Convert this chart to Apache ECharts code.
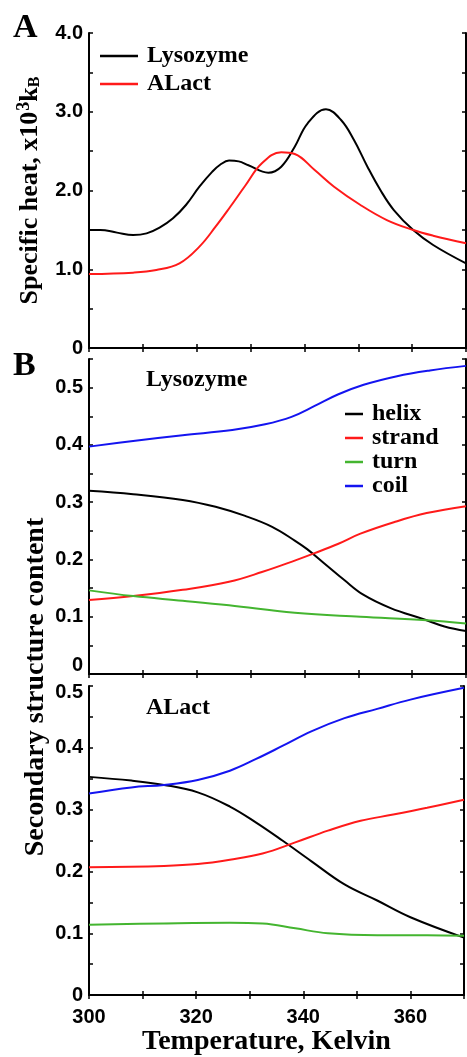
<!DOCTYPE html>
<html>
<head>
<meta charset="utf-8">
<script src="https://cdn.jsdelivr.net/npm/echarts@6/dist/echarts.min.js"></script>
<style>
  html, body { margin: 0; padding: 0; background: #fff; }
  #container { width: 467px; height: 1057px; }
</style>
</head>
<body>
<div id="container"></div>
<script>
var dom = document.getElementById("container");
var myChart = echarts.init(dom);

// panel A: specific heat (x10^3 kB) vs temperature
var cpLysoT = [300, 302.1, 305.2, 308.2, 310.7, 313.1, 315.6, 318, 320.5, 322.9, 324.4, 326, 327.8, 329.6, 333.3, 335.7, 338.2, 340.6, 344, 346.8, 349.2, 351.7, 354.1, 356.6, 360.2, 363.9, 370];
var cpLyso = [1.50, 1.50, 1.465, 1.435, 1.456, 1.528, 1.647, 1.816, 2.048, 2.239, 2.33, 2.38, 2.37, 2.32, 2.226, 2.302, 2.556, 2.853, 3.031, 2.895, 2.641, 2.302, 2.006, 1.752, 1.498, 1.308, 1.075];
var cpALactT = [300, 308.2, 312.5, 316.8, 320.5, 323.5, 326.2, 329, 332.1, 335.7, 338.2, 341.9, 345.5, 350.4, 355.3, 360.2, 363.9, 370];
var cpALact = [0.94, 0.957, 0.99, 1.075, 1.287, 1.54, 1.79, 2.06, 2.345, 2.485, 2.463, 2.26, 2.048, 1.816, 1.625, 1.498, 1.426, 1.33];

// panel B, lysozyme
var lysoHelixT = [300, 308.2, 317.4, 323.5, 329, 334, 338.2, 340.5, 343.7, 347.4, 351, 356, 362, 366, 370];
var lysoHelix = [0.32, 0.314, 0.304, 0.292, 0.276, 0.257, 0.233, 0.218, 0.193, 0.164, 0.138, 0.115, 0.096, 0.083, 0.075];
var lysoStrandT = [300, 308.2, 317.4, 326, 332.1, 338.2, 341.9, 346.2, 350.4, 356.6, 362.7, 370];
var lysoStrand = [0.129, 0.136, 0.147, 0.161, 0.178, 0.198, 0.211, 0.227, 0.245, 0.265, 0.281, 0.293];
var lysoTurnT = [300, 308.2, 317.4, 326, 338.2, 350.4, 362.7, 370];
var lysoTurn = [0.146, 0.136, 0.128, 0.12, 0.107, 0.1, 0.094, 0.088];
var lysoCoilT = [300, 308.2, 317.4, 326.6, 332.7, 337.6, 341.9, 346.2, 351, 357.2, 363.3, 370];
var lysoCoil = [0.397, 0.407, 0.417, 0.426, 0.436, 0.449, 0.468, 0.488, 0.505, 0.52, 0.53, 0.538];

// panel B, ALact
var alHelixT = [300, 307.9, 314, 320.3, 326.3, 331.2, 336.1, 341.6, 347.7, 353.8, 360, 370];
var alHelix = [0.353, 0.347, 0.34, 0.328, 0.305, 0.279, 0.25, 0.216, 0.179, 0.153, 0.126, 0.093];
var alStrandT = [300, 314, 320.3, 326.3, 332.4, 338.5, 344.6, 350.7, 356.8, 363.1, 370];
var alStrand = [0.207, 0.209, 0.212, 0.219, 0.229, 0.247, 0.266, 0.282, 0.292, 0.303, 0.316];
var alTurnT = [300, 314, 326.3, 332.4, 338.5, 344.6, 353.8, 363.1, 370];
var alTurn = [0.114, 0.116, 0.117, 0.116, 0.108, 0.1, 0.097, 0.097, 0.096];
var alCoilT = [300, 307.9, 314, 320.3, 326.3, 331.2, 336.1, 341.6, 347.7, 353.8, 360, 370];
var alCoil = [0.326, 0.336, 0.34, 0.348, 0.363, 0.382, 0.403, 0.427, 0.448, 0.463, 0.478, 0.497];

var structNames = ['helix', 'strand', 'turn', 'coil'];
var structColors = ['#000000', '#ff1a1a', '#44b530', '#1414f0'];

var serif = 'Liberation Serif';
var sans = 'Liberation Sans';

var zip = function (xs, ys) {
    var res = [];
    for (var i = 0; i < xs.length; i++) {
        res.push([xs[i], ys[i]]);
    }
    return res;
};

var tickLabelStyle = {
    fontFamily: sans,
    fontWeight: 'bold',
    fontSize: 20,
    color: '#000'
};

var lineAxis = {
    show: true,
    lineStyle: { color: '#000', width: 2 }
};
var tick = {
    show: true,
    inside: true,
    length: 4,
    lineStyle: { color: '#000', width: 1.5 }
};

var xAxes = [];
var yAxes = [];

function addXAxes(gridIndex, showLabels) {
    var base = {
        type: 'value',
        gridIndex: gridIndex,
        min: 300,
        max: 370,
        interval: 10,
        axisLine: lineAxis,
        axisTick: tick,
        splitLine: { show: false }
    };
    xAxes.push(Object.assign({}, base, {
        position: 'bottom',
        axisLabel: {
            show: showLabels,
            margin: 12,
            fontFamily: sans,
            fontWeight: 'bold',
            fontSize: 20,
            color: '#000',
            formatter: function (v) {
                return v % 20 === 0 ? String(v) : '';
            }
        }
    }));
    xAxes.push(Object.assign({}, base, {
        position: 'top',
        axisLabel: { show: false }
    }));
}

function addYAxes(gridIndex, max, interval, formatter, rich) {
    var base = {
        type: 'value',
        gridIndex: gridIndex,
        min: 0,
        max: max,
        interval: interval,
        axisLine: lineAxis,
        axisTick: tick,
        splitLine: { show: false }
    };
    yAxes.push(Object.assign({}, base, {
        position: 'left',
        axisLabel: Object.assign({ margin: 6, formatter: formatter, rich: rich }, tickLabelStyle)
    }));
    yAxes.push(Object.assign({}, base, {
        position: 'right',
        axisLabel: { show: false }
    }));
}

var fmtA = function (v) {
    if (v === 0) return '0';
    return v % 1 === 0 ? v.toFixed(1) : '';
};
var fmtB1 = function (v) {
    var k = Math.round(v * 100);
    if (k === 0) return '{lo|0}';
    return k % 10 === 0 ? (k / 100).toFixed(1) : '';
};
var fmtB2 = function (v) {
    var k = Math.round(v * 100);
    if (k === 0) return '0';
    if (k === 50) return '{hi|0.5}';
    return k % 10 === 0 ? (k / 100).toFixed(1) : '';
};
var richLo = { lo: Object.assign({ padding: [0, 0, 18, 0] }, tickLabelStyle) };
var richHi = { hi: Object.assign({ padding: [12, 0, 0, 0] }, tickLabelStyle) };

addXAxes(0, false);
addXAxes(1, false);
addXAxes(2, true);
addYAxes(0, 4.0, 0.5, fmtA, {});
addYAxes(1, 0.55, 0.05, fmtB1, richLo);
addYAxes(2, 0.5, 0.05, fmtB2, richHi);

// axis titles
yAxes[0].name = '{m|Specific heat, x10}{sup|3}{m|k}{sub|B}';
yAxes[0].nameLocation = 'middle';
yAxes[0].nameGap = 44;
yAxes[0].nameTextStyle = {
    rich: {
        m: { fontFamily: serif, fontWeight: 'bold', fontSize: 26, color: '#000' },
        sup: { fontFamily: serif, fontWeight: 'bold', fontSize: 18, color: '#000', padding: [0, 0, 12, 1] },
        sub: { fontFamily: serif, fontWeight: 'bold', fontSize: 16, color: '#000', padding: [10, 0, 0, 0] }
    }
};
xAxes[4].name = 'Temperature, Kelvin';
xAxes[4].nameLocation = 'middle';
xAxes[4].nameGap = 27;
xAxes[4].nameTextStyle = {
    fontFamily: serif,
    fontWeight: 'bold',
    fontSize: 28,
    color: '#000',
    padding: [0, 20, 0, 0]
};

var series = [
    {
        name: 'Lysozyme', type: 'line', xAxisIndex: 0, yAxisIndex: 0,
        data: zip(cpLysoT, cpLyso), color: '#000000'
    },
    {
        name: 'ALact', type: 'line', xAxisIndex: 0, yAxisIndex: 0,
        data: zip(cpALactT, cpALact), color: '#ff1a1a'
    }
];
var lysoSets = [[lysoHelixT, lysoHelix], [lysoStrandT, lysoStrand], [lysoTurnT, lysoTurn], [lysoCoilT, lysoCoil]];
var alSets = [[alHelixT, alHelix], [alStrandT, alStrand], [alTurnT, alTurn], [alCoilT, alCoil]];
structNames.forEach(function (n, i) {
    series.push({
        name: n, type: 'line', xAxisIndex: 2, yAxisIndex: 2,
        data: zip(lysoSets[i][0], lysoSets[i][1]), color: structColors[i]
    });
    series.push({
        name: n, type: 'line', xAxisIndex: 4, yAxisIndex: 4,
        data: zip(alSets[i][0], alSets[i][1]), color: structColors[i]
    });
});
series.forEach(function (s) {
    s.smooth = 0.4;
    s.showSymbol = false;
    s.symbol = 'none';
    s.lineStyle = { width: 2 };
    s.animation = false;
});

var titleFont = { fontFamily: serif, fontWeight: 'bold', color: '#000' };

var option = {
    animation: false,
    grid: [
        { left: 89, right: 1, top: 33, height: 315 },
        { left: 89, right: 1, top: 359, height: 315 },
        { left: 89, right: 1, top: 686, height: 317 }
    ],
    title: [
        { text: 'A', left: 13, top: 11, padding: 0, textStyle: Object.assign({ fontSize: 34 }, titleFont) },
        { text: 'B', left: 13, top: 349, padding: 0, textStyle: Object.assign({ fontSize: 34 }, titleFont) },
        { text: 'Lysozyme', left: 146, top: 368, padding: 0, textStyle: Object.assign({ fontSize: 24 }, titleFont) },
        { text: 'ALact', left: 146, top: 696, padding: 0, textStyle: Object.assign({ fontSize: 24 }, titleFont) }
    ],
    legend: [
        {
            data: ['Lysozyme', 'ALact'],
            orient: 'vertical',
            left: 100,
            top: 44,
            padding: 0,
            icon: 'rect',
            itemWidth: 38,
            itemHeight: 2.5,
            itemGap: 4,
            textStyle: Object.assign({ fontSize: 24, lineHeight: 24, padding: [0, 0, 0, 4] }, titleFont)
        },
        {
            data: structNames,
            orient: 'vertical',
            left: 345,
            top: 402,
            padding: 0,
            icon: 'rect',
            itemWidth: 18,
            itemHeight: 2.5,
            itemGap: 0,
            textStyle: Object.assign({ fontSize: 24, lineHeight: 20, padding: [0, 0, 0, 4] }, titleFont)
        }
    ],
    graphic: [
        {
            type: 'text',
            x: 36,
            y: 687,
            rotation: Math.PI / 2,
            style: {
                text: 'Secondary structure content',
                fontFamily: serif,
                fontWeight: 'bold',
                fontSize: 28,
                fill: '#000',
                align: 'center',
                verticalAlign: 'middle'
            }
        }
    ],
    xAxis: xAxes,
    yAxis: yAxes,
    series: series
};

myChart.setOption(option);
</script>
</body>
</html>
